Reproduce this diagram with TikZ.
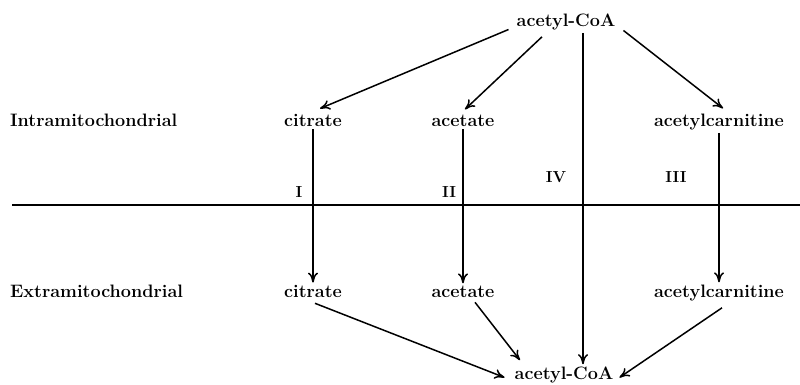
\documentclass[tikz,border=0pt]{standalone}
\usetikzlibrary{arrows.meta}
\begin{document}
\begin{tikzpicture}[x=1pt,y=-1pt,
  lbl/.style={font=\fontsize{18}{20}\selectfont\bfseries, inner sep=2pt, anchor=base},
  rom/.style={font=\fontsize{16}{18}\selectfont\bfseries, inner sep=0pt, anchor=base},
  arr/.style={-{To[length=10pt,width=10pt]}, line width=1.5pt},
  ln/.style={line width=1.5pt}]
\useasboundingbox (0,0) rectangle (800,385);
% nodes
\node[lbl] (acoaT) at (566,27) {acetyl-CoA};
\node[lbl,anchor=base west] (intra) at (8,127) {Intramitochondrial};
\node[lbl] (citT) at (313,127) {citrate};
\node[lbl] (aceT) at (463,127) {acetate};
\node[lbl] (acarT) at (719,127) {acetylcarnitine};
\node[lbl,anchor=base west] (extra) at (8,297) {Extramitochondrial};
\node[lbl] (citB) at (313,297) {citrate};
\node[lbl] (aceB) at (463,297) {acetate};
\node[lbl] (acarB) at (719,297) {acetylcarnitine};
\node[lbl] (acoaB) at (564,379) {acetyl-CoA};
\node[rom] (r1) at (299,197) {I};
\node[rom] (r2) at (449,197) {II};
\node[rom] (r4) at (556,182) {IV};
\node[rom] (r3) at (676,182) {III};
\coordinate (mL) at (12,205);
\coordinate (mR) at (800,205);
\coordinate (ivx) at (583,0);
% membrane
\draw[ln] (mL) -- (mR);
% vertical transport arrows
\draw[arr] (citT) -- (citB);
\draw[arr] (aceT) -- (aceB);
\draw[arr] (acarT) -- (acarB);
\draw[arr] (acoaT.south -| ivx) -- (acoaB.north -| ivx);
% top diagonals
\draw[arr] ([shift={(-6,7)}]acoaT.west) -- ([shift={(7,-4)}]citT.north);
\draw[arr] ([shift={(-24,4)}]acoaT.south) -- ([shift={(2,-4)}]aceT.north);
\draw[arr] ([shift={(6,8)}]acoaT.east) -- ([shift={(4,-4)}]acarT.north);
% bottom diagonals
\draw[arr] ([shift={(2,4)}]citB.south) -- ([shift={(-8,3)}]acoaB.west);
\draw[arr] ([shift={(12,3)}]aceB.south) -- ([shift={(-44,-4)}]acoaB.north);
\draw[arr] ([shift={(3,5)}]acarB.south) -- ([shift={(4,3)}]acoaB.east);
\end{tikzpicture}
\end{document}
